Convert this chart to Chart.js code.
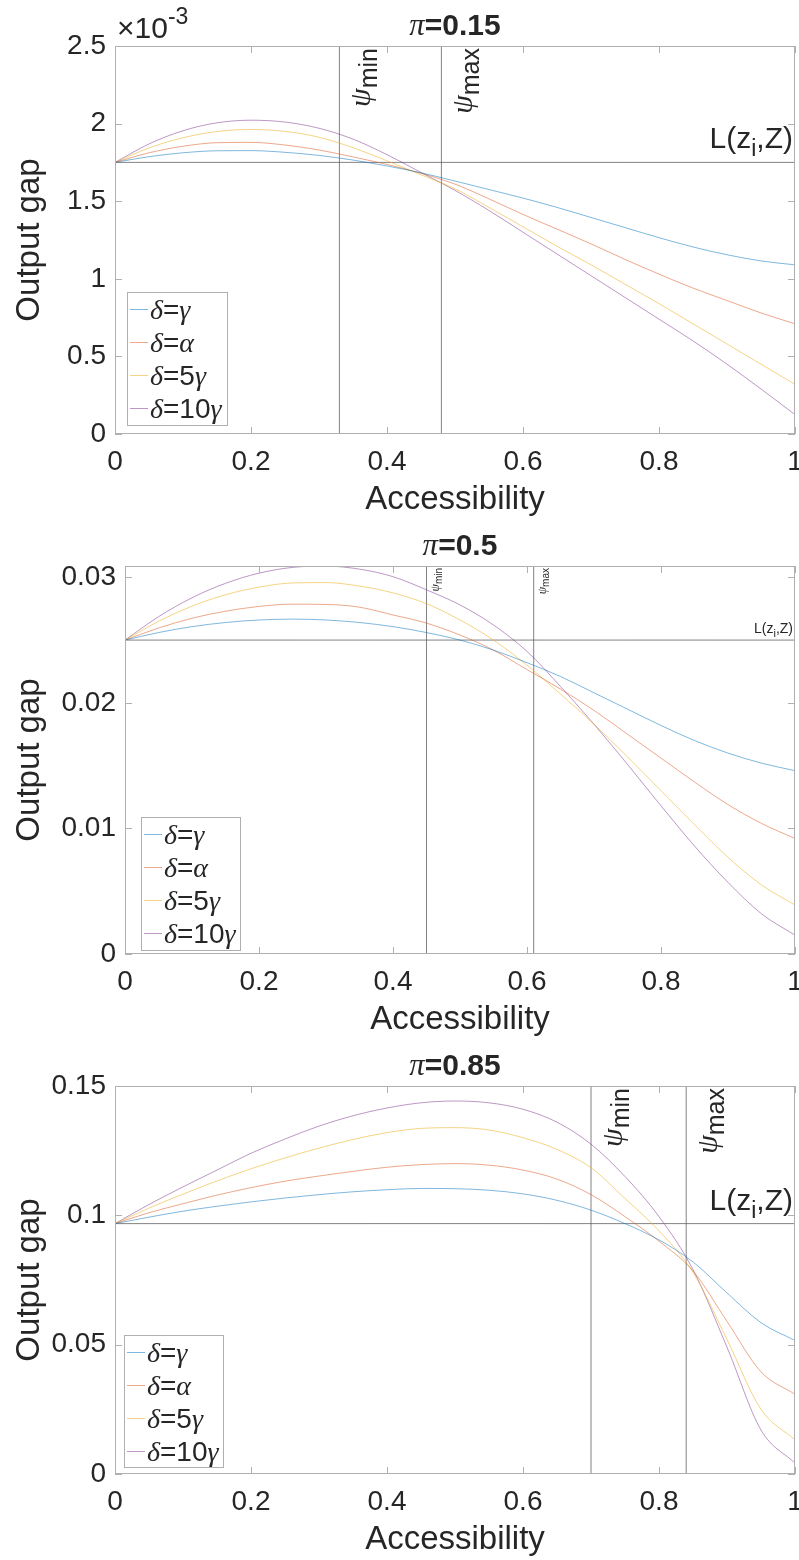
<!DOCTYPE html>
<html>
<head>
<meta charset="utf-8">
<script src="https://cdn.jsdelivr.net/npm/chart.js@4.4.0/dist/chart.umd.min.js"></script>
<style>
  body { margin: 0; background: #fff; }
  .panel { width: 799px; height: 520px; }
</style>
</head>
<body>
<div class="panel"><canvas id="c1" width="799" height="520"></canvas></div>
<div class="panel"><canvas id="c2" width="799" height="520"></canvas></div>
<div class="panel"><canvas id="c3" width="799" height="520"></canvas></div>
<script>
// accessibility grid (x axis)
const accessibility = [0, 0.05, 0.1, 0.15, 0.2, 0.25, 0.3, 0.35, 0.4, 0.45, 0.5, 0.55, 0.6, 0.65, 0.7, 0.75, 0.8, 0.85, 0.9, 0.95, 1];
const xTicks = [0, 0.2, 0.4, 0.6, 0.8, 1];
const seriesNames = ["γ", "α", "5γ", "10γ"];

// pi = 0.15 (values in units of 10^-3)
const gap15Gamma = [1.750, 1.787, 1.812, 1.825, 1.826, 1.815, 1.795, 1.765, 1.727, 1.683, 1.630, 1.575, 1.520, 1.460, 1.395, 1.330, 1.265, 1.205, 1.155, 1.115, 1.090];
const gap15Alpha = [1.750, 1.812, 1.854, 1.877, 1.879, 1.862, 1.830, 1.785, 1.737, 1.680, 1.610, 1.515, 1.415, 1.320, 1.225, 1.125, 1.030, 0.940, 0.860, 0.780, 0.710];
const gap15Five  = [1.750, 1.843, 1.909, 1.949, 1.962, 1.950, 1.912, 1.845, 1.760, 1.670, 1.580, 1.460, 1.335, 1.210, 1.090, 0.965, 0.840, 0.710, 0.580, 0.450, 0.320];
const gap15Ten   = [1.750, 1.869, 1.954, 2.005, 2.022, 2.010, 1.970, 1.900, 1.800, 1.685, 1.570, 1.440, 1.300, 1.160, 1.020, 0.880, 0.740, 0.600, 0.450, 0.290, 0.125];
const yTicks15 = [0, 0.5, 1, 1.5, 2, 2.5];
const level15 = 1.75, psiMin15 = 0.33, psiMax15 = 0.48;

// pi = 0.5
const gap50Gamma = [0.0250, 0.0256, 0.02607, 0.0264, 0.0266, 0.02667, 0.0266, 0.0264, 0.02607, 0.0256, 0.0250, 0.0242, 0.0232, 0.0221, 0.0208, 0.0195, 0.0182, 0.0170, 0.0160, 0.0152, 0.0146];
const gap50Alpha = [0.0250, 0.02596, 0.02674, 0.0273, 0.02768, 0.02786, 0.02784, 0.02762, 0.0270, 0.02635, 0.0254, 0.0242, 0.02265, 0.0211, 0.0194, 0.0175, 0.0156, 0.0137, 0.0119, 0.0104, 0.0092];
const gap50Five  = [0.0250, 0.02649, 0.0277, 0.02861, 0.02922, 0.02955, 0.02958, 0.0293, 0.02876, 0.0279, 0.0266, 0.0250, 0.0230, 0.0207, 0.0183, 0.0157, 0.0130, 0.0103, 0.0077, 0.0055, 0.0039];
const gap50Ten   = [0.0250, 0.02686, 0.02837, 0.02952, 0.03033, 0.03079, 0.03089, 0.03065, 0.03005, 0.0290, 0.0278, 0.0262, 0.0241, 0.0213, 0.0183, 0.0151, 0.0118, 0.0086, 0.0057, 0.0032, 0.0015];
const yTicks50 = [0, 0.01, 0.02, 0.03];
const level50 = 0.025, psiMin50 = 0.45, psiMax50 = 0.61;

// pi = 0.85
const gap85Gamma = [0.0968, 0.0993, 0.1016, 0.1035, 0.1052, 0.1067, 0.1080, 0.1091, 0.1099, 0.1104, 0.1103, 0.1097, 0.1083, 0.1058, 0.1020, 0.0968, 0.0905, 0.0820, 0.0700, 0.0585, 0.0516];
const gap85Alpha = [0.0968, 0.1010, 0.1045, 0.1078, 0.1107, 0.1132, 0.1152, 0.1170, 0.1186, 0.1196, 0.1200, 0.1194, 0.1175, 0.1140, 0.1080, 0.0995, 0.0900, 0.0785, 0.0590, 0.0395, 0.0308];
const gap85Five  = [0.0968, 0.1028, 0.1082, 0.1133, 0.1180, 0.1222, 0.1260, 0.1293, 0.1320, 0.1336, 0.1339, 0.1330, 0.1300, 0.1255, 0.1184, 0.1065, 0.0940, 0.0780, 0.0520, 0.0250, 0.0132];
const gap85Ten   = [0.0968, 0.1042, 0.1110, 0.1175, 0.1240, 0.1295, 0.1345, 0.1385, 0.1415, 0.1435, 0.1442, 0.1435, 0.1410, 0.1360, 0.1275, 0.1150, 0.0995, 0.0790, 0.0490, 0.0170, 0.0042];
const yTicks85 = [0, 0.05, 0.1, 0.15];
const level85 = 0.0968, psiMin85 = 0.70, psiMax85 = 0.84;

const lineColors = ["rgba(0,114,189,0.5)", "rgba(217,83,25,0.5)", "rgba(237,177,32,0.55)", "rgba(126,47,142,0.5)"];
const SANS = '"Liberation Sans", Helvetica, Arial, sans-serif';
const SERIF = '"Liberation Serif", "Times New Roman", serif';
const INK = "#262626";
const BOX = "#b0b0b0";
const REF = "rgba(90,90,90,0.75)";

const panels = [
  { id: "c1", pi: "0.15", series: [gap15Gamma, gap15Alpha, gap15Five, gap15Ten], yMax: 2.5, yTicks: yTicks15,
    level: level15, psiMin: psiMin15, psiMax: psiMax15, left: 115, small: false, exp: true, legend: [127, 292, 100, 133] },
  { id: "c2", pi: "0.5", series: [gap50Gamma, gap50Alpha, gap50Five, gap50Ten], yMax: 0.0309, yTicks: yTicks50,
    level: level50, psiMin: psiMin50, psiMax: psiMax50, left: 125, small: true, exp: false, legend: [141, 297, 99, 133] },
  { id: "c3", pi: "0.85", series: [gap85Gamma, gap85Alpha, gap85Five, gap85Ten], yMax: 0.15, yTicks: yTicks85,
    level: level85, psiMin: psiMin85, psiMax: psiMax85, left: 115, small: false, exp: false, legend: [124, 295, 99, 132] }
];

function fmt(v) {
  return String(parseFloat(v.toPrecision(6)));
}

// draw a run of text pieces [text, font, dy]
function drawRun(ctx, parts, x, y) {
  let cx = x;
  parts.forEach(p => {
    ctx.font = p[1];
    ctx.fillText(p[0], cx, y + (p[2] || 0));
    cx += ctx.measureText(p[0]).width;
  });
  return cx - x;
}
function runWidth(ctx, parts) {
  let w = 0;
  parts.forEach(p => { ctx.font = p[1]; w += ctx.measureText(p[0]).width; });
  return w;
}

function makeDecor(p) {
  return {
    id: "decor",
    afterDraw(chart) {
      const ctx = chart.ctx;
      const a = chart.chartArea;
      const xs = chart.scales.x, ys = chart.scales.y;
      ctx.save();
      ctx.textAlign = "left";
      ctx.textBaseline = "alphabetic";
      ctx.fillStyle = INK;

      // axes box and inward ticks
      ctx.strokeStyle = BOX;
      ctx.lineWidth = 1;
      ctx.strokeRect(a.left + 0.5, a.top + 0.5, a.right - a.left - 1, a.bottom - a.top - 1);
      ctx.beginPath();
      xTicks.forEach(t => {
        const px = Math.round(xs.getPixelForValue(t)) + 0.5;
        ctx.moveTo(px, a.bottom); ctx.lineTo(px, a.bottom - 7);
        ctx.moveTo(px, a.top); ctx.lineTo(px, a.top + 7);
      });
      p.yTicks.forEach(t => {
        const py = Math.round(ys.getPixelForValue(t)) + 0.5;
        ctx.moveTo(a.left, py); ctx.lineTo(a.left + 7, py);
        ctx.moveTo(a.right, py); ctx.lineTo(a.right - 7, py);
      });
      ctx.stroke();

      const cxm = (a.left + a.right) / 2;

      // title
      const tparts = [["π", "italic 31px " + SERIF], ["=" + p.pi, "bold 30px " + SANS]];
      drawRun(ctx, tparts, cxm - runWidth(ctx, tparts) / 2, 35);

      // axis titles
      ctx.font = "33px " + SANS;
      ctx.textAlign = "center";
      ctx.fillText("Accessibility", cxm, 509);
      ctx.save();
      ctx.translate(39, (a.top + a.bottom) / 2);
      ctx.rotate(-Math.PI / 2);
      ctx.fillText("Output gap", 0, 0);
      ctx.restore();
      ctx.textAlign = "left";

      // exponent label
      if (p.exp) {
        const w10 = drawRun(ctx, [["×10", "30px " + SANS]], a.left + 2, 38);
        drawRun(ctx, [["-3", "23px " + SANS]], a.left + 2 + w10, 24);
      }

      // psi labels next to the vertical lines
      const ms = p.small ? 12 : 30, ss = p.small ? 10 : 25;
      const off = p.small ? 12 : 31, sh = p.small ? 3 : 7;
      [["min", p.psiMin], ["max", p.psiMax]].forEach(([sub, v]) => {
        const px = xs.getPixelForValue(v);
        const parts = [["ψ", "italic " + ms + "px " + SERIF], [sub, ss + "px " + SANS, sh]];
        const w = runWidth(ctx, parts);
        ctx.save();
        ctx.translate(px + off, a.top + 2 + w);
        ctx.rotate(-Math.PI / 2);
        drawRun(ctx, parts, 0, 0);
        ctx.restore();
      });

      // L(z_i,Z) label
      const ls = p.small ? 14 : 30;
      const lparts = [["L(z", ls + "px " + SANS], ["i", Math.round(ls * 0.75) + "px " + SANS, Math.round(ls * 0.28)], [",Z)", ls + "px " + SANS]];
      const ly = ys.getPixelForValue(p.level) - (p.small ? 7 : 14);
      drawRun(ctx, lparts, a.right - 2 - runWidth(ctx, lparts), ly);

      // legend
      const [bx, by, bw, bh] = p.legend;
      ctx.fillStyle = "#fff";
      ctx.fillRect(bx, by, bw, bh);
      ctx.strokeStyle = BOX;
      ctx.strokeRect(bx + 0.5, by + 0.5, bw, bh);
      seriesNames.forEach((name, i) => {
        const cy = by + 17 + i * 33;
        ctx.strokeStyle = lineColors[i];
        ctx.beginPath();
        ctx.moveTo(bx + 3, cy + 0.5); ctx.lineTo(bx + 21, cy + 0.5);
        ctx.stroke();
        ctx.fillStyle = INK;
        const num = name.slice(0, -1);
        const greek = name.slice(-1);
        const parts = [["δ", "italic 28px " + SERIF], ["=" + num, "28px " + SANS], [greek, "italic 28px " + SERIF]];
        drawRun(ctx, parts, bx + 23, cy + 10);
      });
      ctx.restore();
    }
  };
}

panels.forEach(p => {
  const datasets = p.series.map((s, i) => ({
    label: "δ=" + seriesNames[i],
    data: accessibility.map((x, k) => ({ x: x, y: s[k] })),
    borderColor: lineColors[i],
    borderWidth: 1,
    pointRadius: 0,
    cubicInterpolationMode: "monotone",
    fill: false
  }));
  // reference lines
  [p.psiMin, p.psiMax].forEach(v => datasets.push({
    data: [{ x: v, y: 0 }, { x: v, y: p.yMax }],
    borderColor: REF, borderWidth: 1, pointRadius: 0, fill: false
  }));
  datasets.push({
    data: [{ x: 0, y: p.level }, { x: 1, y: p.level }],
    borderColor: REF, borderWidth: 1, pointRadius: 0, fill: false
  });

  new Chart(document.getElementById(p.id), {
    type: "line",
    data: { datasets: datasets },
    options: {
      responsive: false,
      animation: false,
      devicePixelRatio: 1,
      layout: { padding: { top: 46, right: 4, left: 0, bottom: 0 } },
      plugins: { legend: { display: false }, tooltip: { enabled: false } },
      scales: {
        x: {
          type: "linear", min: 0, max: 1,
          afterBuildTicks: s => { s.ticks = xTicks.map(v => ({ value: v })); },
          afterFit: s => { s.height = 86; s.paddingLeft = 0; s.paddingRight = 0; },
          grid: { display: false, drawTicks: false },
          border: { display: false },
          ticks: { font: { family: SANS, size: 28 }, color: INK, padding: 11, maxRotation: 0, callback: v => fmt(v) }
        },
        y: {
          type: "linear", min: 0, max: p.yMax,
          afterBuildTicks: s => { s.ticks = p.yTicks.map(v => ({ value: v })); },
          afterFit: s => { s.width = p.left; s.paddingTop = 0; s.paddingBottom = 0; },
          grid: { display: false, drawTicks: false },
          border: { display: false },
          ticks: { font: { family: SANS, size: 28 }, color: INK, padding: 9, callback: v => fmt(v) }
        }
      }
    },
    plugins: [makeDecor(p)]
  });
});
</script>
</body>
</html>
